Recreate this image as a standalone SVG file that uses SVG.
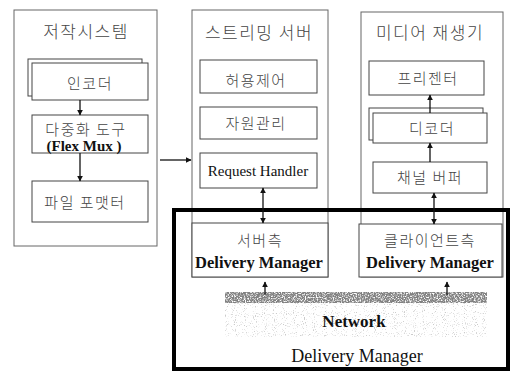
<svg xmlns="http://www.w3.org/2000/svg" width="512" height="372" viewBox="0 0 512 372">
<style>
.outer{fill:none;stroke:#666;stroke-width:1}
.box{fill:#fff;stroke:#444;stroke-width:1}
.kr{font-family:"Noto Sans CJK KR","Noto Sans",sans-serif;font-weight:300;fill:#444;text-anchor:middle}
.title{font-size:17px;letter-spacing:1.5px}
.item{font-size:15px;letter-spacing:1.5px}
.ser{font-family:"Liberation Serif","Times New Roman",serif;fill:#111;text-anchor:middle}
.ln{stroke:#111;stroke-width:1.3;fill:none}
</style>
<defs>
<marker id="ah" viewBox="0 0 10 10" refX="9" refY="5" markerWidth="6" markerHeight="6" orient="auto-start-reverse" markerUnits="userSpaceOnUse">
<path d="M0,0 L10,5 L0,10 z" fill="#111"/>
</marker>
<filter id="dense" x="0" y="0" width="100%" height="100%">
<feTurbulence type="fractalNoise" baseFrequency="0.75" numOctaves="2" seed="5" result="n"/>
<feColorMatrix in="n" type="matrix" values="0 0 0 0 0.22  0 0 0 0 0.22  0 0 0 0 0.22  3.4 0 0 0 -0.9"/>
<feComposite in2="SourceGraphic" operator="in"/>
</filter>
<filter id="sparse" x="0" y="0" width="100%" height="100%">
<feTurbulence type="fractalNoise" baseFrequency="0.9" numOctaves="1" seed="9" result="n"/>
<feColorMatrix in="n" type="matrix" values="0 0 0 0 0.6  0 0 0 0 0.6  0 0 0 0 0.6  6 0 0 0 -3.5"/>
<feComposite in2="SourceGraphic" operator="in"/>
</filter>
</defs>

<g id="authoring">
<rect class="outer" x="14" y="10" width="143" height="236"/>
<text class="kr title" x="86" y="38">저작시스템</text>
</g>
<g id="encoder">
<rect class="box" x="28" y="59" width="114" height="37"/>
<rect class="box" x="32" y="63" width="116" height="37"/>
<text class="kr item" x="90" y="89">인코더</text>
</g>
<g id="mux">
<rect class="box" x="32" y="115" width="116" height="38"/>
<text class="kr item" x="86" y="135">다중화 도구</text>
<text class="ser" x="84" y="151" font-size="15" font-weight="bold">(Flex Mux )</text>
</g>
<g id="formatter">
<rect class="box" x="32" y="181" width="116" height="41"/>
<text class="kr item" x="85" y="208">파일 포맷터</text>
</g>

<g id="server">
<rect class="outer" x="192" y="10" width="136" height="267"/>
<text class="kr title" x="259" y="39">스트리밍 서버</text>
</g>
<g id="admission">
<rect class="box" x="200" y="60" width="117" height="33"/>
<text class="kr item" x="256" y="86">허용제어</text>
</g>
<g id="resource">
<rect class="box" x="200" y="107" width="117" height="32"/>
<text class="kr item" x="256" y="129">자원관리</text>
</g>
<g id="request">
<rect class="box" x="200" y="153" width="117" height="35"/>
<text class="ser" x="258" y="176" font-size="15">Request Handler</text>
</g>

<g id="player">
<rect class="outer" x="361" y="12" width="142" height="265"/>
<text class="kr title" x="430" y="39">미디어 재생기</text>
</g>
<g id="presenter">
<rect class="box" x="369" y="61" width="115" height="34"/>
<text class="kr item" x="428" y="84">프리젠터</text>
</g>
<g id="decoder">
<rect class="box" x="369" y="108" width="114" height="32"/>
<rect class="box" x="373" y="113" width="114" height="30"/>
<text class="kr item" x="432" y="134">디코더</text>
</g>
<g id="buffer">
<rect class="box" x="373" y="162" width="114" height="31"/>
<text class="kr item" x="430" y="183">채널 버퍼</text>
</g>

<g id="delivery">
<rect x="174" y="210" width="334" height="159" fill="none" stroke="#000" stroke-width="4"/>
<text class="ser" x="357" y="362" font-size="18">Delivery Manager</text>
</g>
<g id="serverdm">
<rect class="box" x="192" y="223" width="136" height="54"/>
<text class="kr item" x="260" y="246">서버측</text>
<text class="ser" x="259" y="268" font-size="16.5" font-weight="bold">Delivery Manager</text>
</g>
<g id="clientdm">
<rect class="box" x="359" y="224" width="143" height="53"/>
<text class="kr item" x="430" y="246">클라이언트측</text>
<text class="ser" x="430" y="268" font-size="16.5" font-weight="bold">Delivery Manager</text>
</g>

<g id="network">
<rect x="225" y="303" width="262" height="34" fill="#fff" filter="url(#sparse)"/>
<rect x="225" y="292" width="262" height="11" fill="#fff" filter="url(#dense)"/>
<text class="ser" x="354" y="327" font-size="17" font-weight="bold">Network</text>
</g>

<g id="connectors">
<line class="ln" x1="80" y1="100" x2="80" y2="115" marker-end="url(#ah)"/>
<line class="ln" x1="80" y1="153" x2="80" y2="181" marker-end="url(#ah)"/>
<line class="ln" x1="160" y1="160" x2="191" y2="160" marker-end="url(#ah)"/>
<line class="ln" x1="263" y1="188" x2="263" y2="223" marker-start="url(#ah)" marker-end="url(#ah)"/>
<line class="ln" x1="430" y1="113" x2="430" y2="95" marker-end="url(#ah)"/>
<line class="ln" x1="430" y1="162" x2="430" y2="143" marker-end="url(#ah)"/>
<line class="ln" x1="434" y1="193" x2="434" y2="224" marker-start="url(#ah)" marker-end="url(#ah)"/>
<line class="ln" x1="265" y1="295" x2="265" y2="282" marker-end="url(#ah)"/>
<line class="ln" x1="447" y1="295" x2="447" y2="282" marker-end="url(#ah)"/>
</g>
</svg>
